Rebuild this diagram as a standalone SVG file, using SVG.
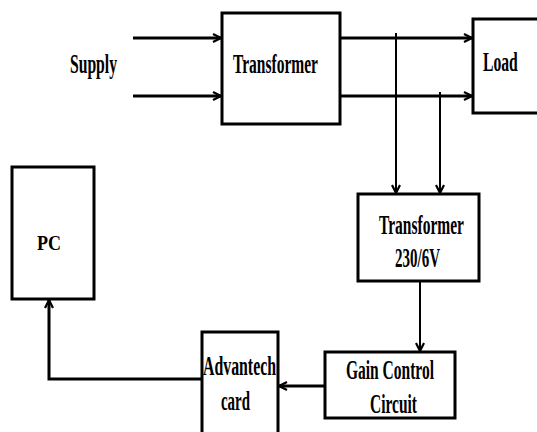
<svg xmlns="http://www.w3.org/2000/svg" width="537" height="432" viewBox="0 0 537 432">
  <defs>
    <style>
      .box { fill: #ffffff; stroke: #000000; stroke-width: 3; }
      .lbl { font-family: "Liberation Serif", "Times New Roman", serif; font-size: 27px; font-weight: bold; fill: #000000; }
      .wire { fill: none; stroke: #000000; stroke-width: 3; }
      .tap { fill: none; stroke: #000000; stroke-width: 2; }
    </style>
    <marker id="arr" viewBox="0 0 10 10" refX="9" refY="5" markerWidth="10" markerHeight="10" markerUnits="userSpaceOnUse" orient="auto">
      <path d="M1,1 L9,5 L1,9" fill="none" stroke="#000000" stroke-width="2.2"/>
    </marker>
  </defs>
  <rect width="537" height="432" fill="#ffffff"/>

  <g id="connectors">
    <line class="wire" x1="133" y1="38" x2="221" y2="38" marker-end="url(#arr)"/>
    <line class="wire" x1="133" y1="96" x2="221" y2="96" marker-end="url(#arr)"/>
    <line class="wire" x1="340" y1="38" x2="472" y2="38" marker-end="url(#arr)"/>
    <line class="wire" x1="340" y1="96" x2="472" y2="96" marker-end="url(#arr)"/>
    <line class="tap" x1="396" y1="33" x2="396" y2="193" marker-end="url(#arr)"/>
    <line class="tap" x1="440" y1="92" x2="440" y2="193" marker-end="url(#arr)"/>
    <line class="tap" x1="420" y1="281" x2="420" y2="351" marker-end="url(#arr)"/>
    <line class="wire" x1="325" y1="386" x2="279" y2="386" marker-end="url(#arr)"/>
    <polyline class="wire" points="202,379 49,379 49,300" marker-end="url(#arr)"/>
  </g>

  <g id="supply">
    <text class="lbl" x="70" y="73" textLength="47" lengthAdjust="spacingAndGlyphs">Supply</text>
  </g>

  <g id="transformer">
    <rect class="box" x="222" y="13" width="118" height="111"/>
    <text class="lbl" x="233" y="73" textLength="85" lengthAdjust="spacingAndGlyphs">Transformer</text>
  </g>

  <g id="load">
    <path class="box" d="M537,19 H473 V113 H537"/>
    <text class="lbl" transform="translate(483,71) scale(0.58,1)" x="0" y="0">Load</text>
  </g>

  <g id="transformer-230-6v">
    <rect class="box" x="358" y="194" width="121" height="87"/>
    <text class="lbl" x="379" y="234" textLength="85" lengthAdjust="spacingAndGlyphs">Transformer</text>
    <text class="lbl" x="395" y="267" textLength="45" lengthAdjust="spacingAndGlyphs">230/6V</text>
  </g>

  <g id="gain-control">
    <rect class="box" x="325" y="352" width="130" height="66"/>
    <text class="lbl" x="346" y="379" textLength="88" lengthAdjust="spacingAndGlyphs">Gain Control</text>
    <text class="lbl" x="370" y="413" textLength="47" lengthAdjust="spacingAndGlyphs">Circuit</text>
  </g>

  <g id="advantech">
    <path class="box" d="M202,437 V332 H278 V437"/>
    <text class="lbl" x="203" y="375" textLength="73" lengthAdjust="spacingAndGlyphs">Advantech</text>
    <text class="lbl" x="221" y="410" textLength="29" lengthAdjust="spacingAndGlyphs">card</text>
  </g>

  <g id="pc">
    <rect class="box" x="12" y="167" width="82" height="132"/>
    <text class="lbl" x="37" y="250" textLength="24" lengthAdjust="spacingAndGlyphs" style="font-size:21px">PC</text>
  </g>
</svg>
